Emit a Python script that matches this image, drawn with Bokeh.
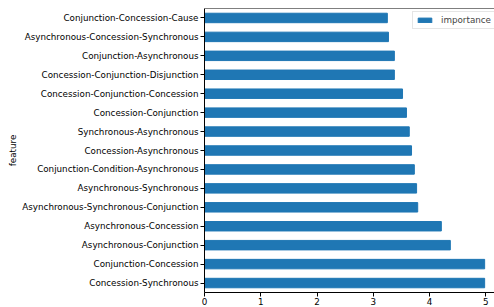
from bokeh.plotting import figure
from bokeh.models import ColumnDataSource, Range1d, FactorRange, FixedTicker, Span
from bokeh.embed import file_html
from bokeh.resources import INLINE

features = [
    "Concession-Synchronous",
    "Conjunction-Concession",
    "Asynchronous-Conjunction",
    "Asynchronous-Concession",
    "Asynchronous-Synchronous-Conjunction",
    "Asynchronous-Synchronous",
    "Conjunction-Condition-Asynchronous",
    "Concession-Asynchronous",
    "Synchronous-Asynchronous",
    "Concession-Conjunction",
    "Concession-Conjunction-Concession",
    "Concession-Conjunction-Disjunction",
    "Conjunction-Asynchronous",
    "Asynchronous-Concession-Synchronous",
    "Conjunction-Concession-Cause",
]
importance = [4.98, 4.98, 4.37, 4.21, 3.79, 3.77, 3.73, 3.68, 3.64, 3.59, 3.52, 3.375, 3.375, 3.27, 3.25]
x_ticks = [0, 1, 2, 3, 4, 5]

FONT = "DejaVu Sans"
FS = "8.75px"

source = ColumnDataSource(dict(feature=features, importance=importance))

p = figure(
    width=494, height=307,
    y_range=FactorRange(factors=features, range_padding=0),
    x_range=Range1d(0, 5.155),
    output_backend="svg", toolbar_location=None,
    min_border_left=204, min_border_right=0, min_border_top=8, min_border_bottom=0,
)
p.hbar(y="feature", right="importance", height=0.5, source=source,
       color="#1f77b4", legend_label="importance")

p.outline_line_color = None
p.add_layout(Span(location=len(features), dimension="width", line_color="black", line_width=1))
p.xgrid.visible = False
p.ygrid.visible = False

for ax in (p.xaxis, p.yaxis):
    ax.axis_line_color = "black"
    ax.major_tick_line_color = "black"
    ax.major_tick_out = 4
    ax.major_tick_in = 0
    ax.minor_tick_line_color = None
    ax.major_label_text_font = FONT
    ax.major_label_text_font_size = FS
    ax.major_label_text_color = "black"

p.xaxis.ticker = FixedTicker(ticks=x_ticks)
p.xaxis.major_label_standoff = 1
p.yaxis.major_label_standoff = 2
p.yaxis.axis_label = "feature"
p.yaxis.axis_label_text_font = FONT
p.yaxis.axis_label_text_font_size = FS
p.yaxis.axis_label_text_font_style = "normal"
p.yaxis.axis_label_text_color = "black"
p.yaxis.axis_label_standoff = 1

p.legend.location = (208, 263)
p.legend.label_text_font = FONT
p.legend.label_text_font_size = FS
p.legend.glyph_width = 17
p.legend.glyph_height = 6
p.legend.label_standoff = 8
p.legend.padding = 3
p.legend.margin = 0
p.legend.spacing = 0
p.legend.label_height = 10
p.legend.border_line_color = "#cccccc"
p.legend.background_fill_alpha = 0.8

open("out.html", "w").write(file_html(p, INLINE))
